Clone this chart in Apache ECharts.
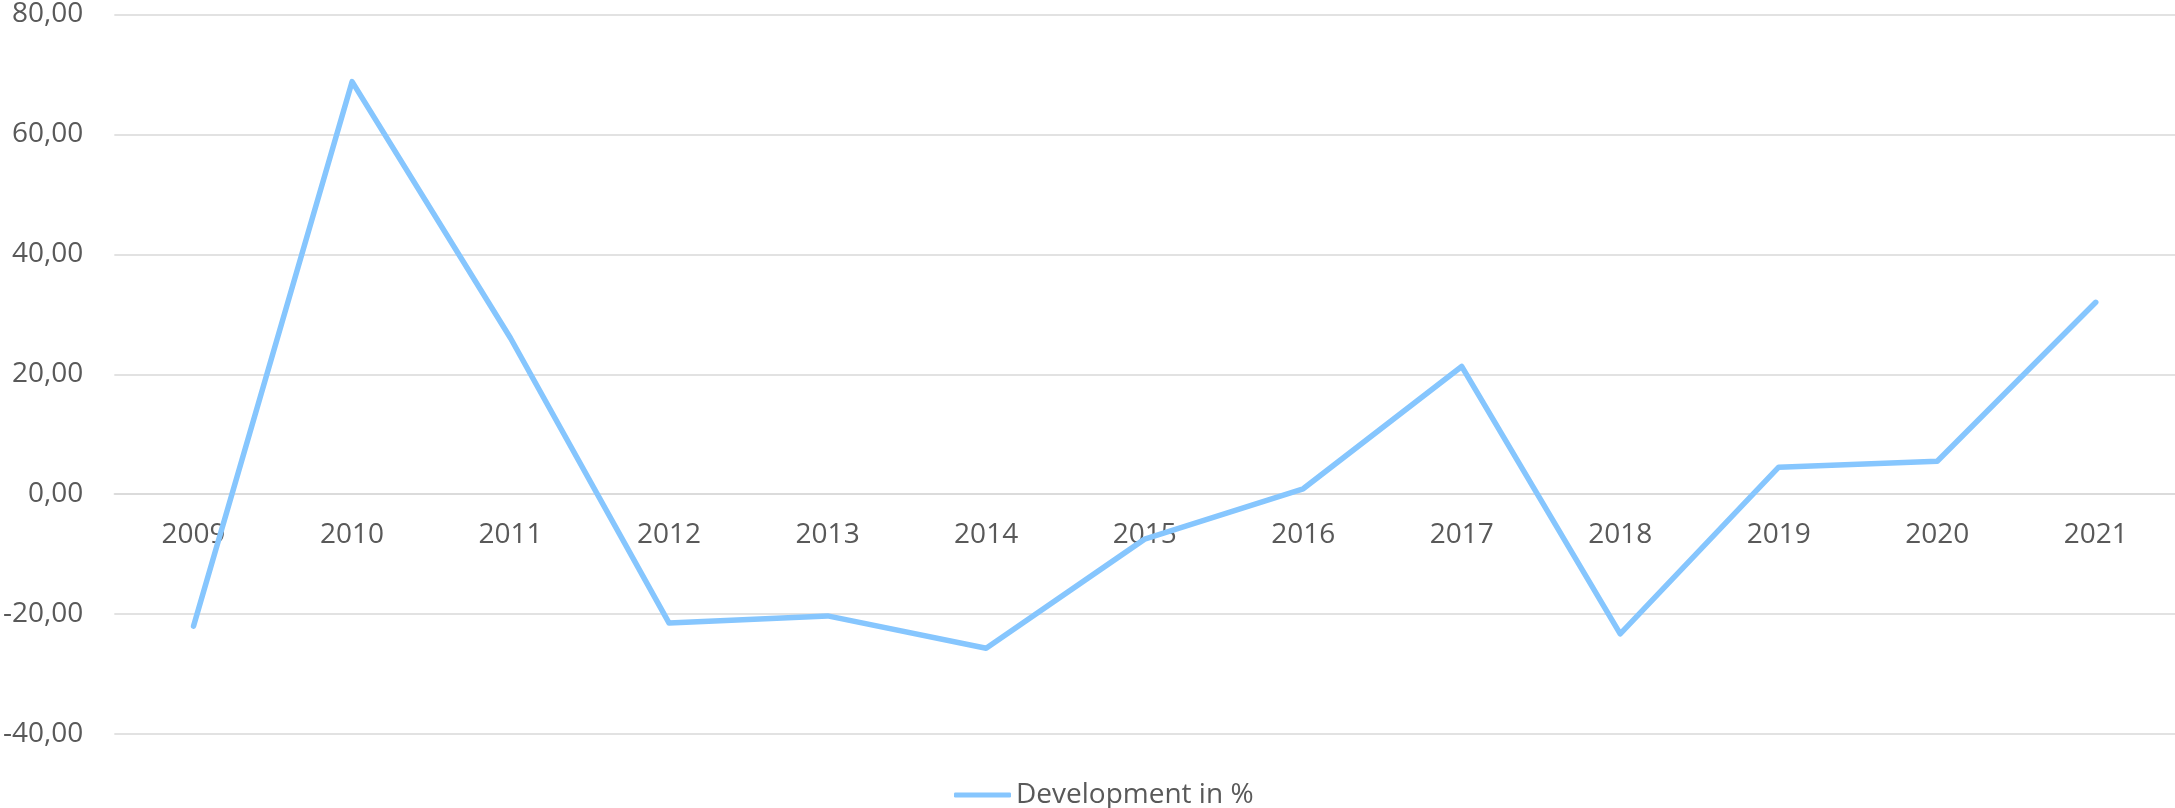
<!DOCTYPE html>
<html>
<head>
<meta charset="utf-8">
<script src="https://cdn.jsdelivr.net/npm/echarts@6/dist/echarts.min.js"></script>
<style>
  html, body { margin: 0; padding: 0; background: #ffffff; }
  #chart { width: 2175px; height: 808px; }
</style>
</head>
<body>
<div id="chart"></div>
<script>
// Year-over-year development, in percent
const years = ['2009', '2010', '2011', '2012', '2013', '2014', '2015', '2016', '2017', '2018', '2019', '2020', '2021'];
const development = [-22.0, 68.8, 26.0, -21.5, -20.3, -25.7, -7.5, 0.9, 21.3, -23.3, 4.5, 5.5, 32.0];
const seriesName = 'Development in %';

const yMin = -40;
const yMax = 80;
const yStep = 20;

const textColor = '#595959';
const gridColor = '#d9d9d9';
const lineColor = '#86c6fe';
const fontFamily = '"Open Sans", sans-serif';

const gridTop = 14.5;
const gridBottom = 74;
const chartHeight = 808;

// lift the category axis from the bottom edge up to the zero line
const plotHeight = chartHeight - gridTop - gridBottom;
const zeroLift = plotHeight * (0 - yMin) / (yMax - yMin);

const chart = echarts.init(document.getElementById('chart'), null, { renderer: 'canvas' });

chart.setOption({
  animation: false,
  backgroundColor: '#ffffff',
  grid: { left: 113, right: 0, top: gridTop, bottom: gridBottom, containLabel: false },
  legend: {
    data: [seriesName],
    left: 949,
    top: 776,
    icon: 'roundRect',
    itemWidth: 57,
    itemHeight: 5,
    textStyle: { color: textColor, fontSize: 28, fontFamily: fontFamily }
  },
  xAxis: {
    type: 'category',
    data: years,
    boundaryGap: true,
    position: 'bottom',
    offset: -zeroLift,
    axisLine: { show: true, onZero: false, lineStyle: { color: gridColor, width: 1.5 } },
    axisTick: { show: false },
    axisLabel: {
      color: textColor,
      fontSize: 28,
      fontFamily: fontFamily,
      margin: 27,
      lineHeight: 28
    },
    splitLine: { show: false }
  },
  yAxis: {
    type: 'value',
    min: yMin,
    max: yMax,
    interval: yStep,
    axisLine: { show: false },
    axisTick: { show: false },
    axisLabel: {
      color: textColor,
      fontSize: 28,
      fontFamily: fontFamily,
      margin: 31,
      formatter: v => v.toFixed(2).replace('.', ',')
    },
    splitLine: { show: true, lineStyle: { color: gridColor, width: 1.5 } }
  },
  series: [{
    name: seriesName,
    type: 'line',
    data: development,
    showSymbol: false,
    symbol: 'none',
    itemStyle: { color: lineColor },
    lineStyle: { color: lineColor, width: 5.5, cap: 'round', join: 'round' }
  }]
});
</script>
</body>
</html>
